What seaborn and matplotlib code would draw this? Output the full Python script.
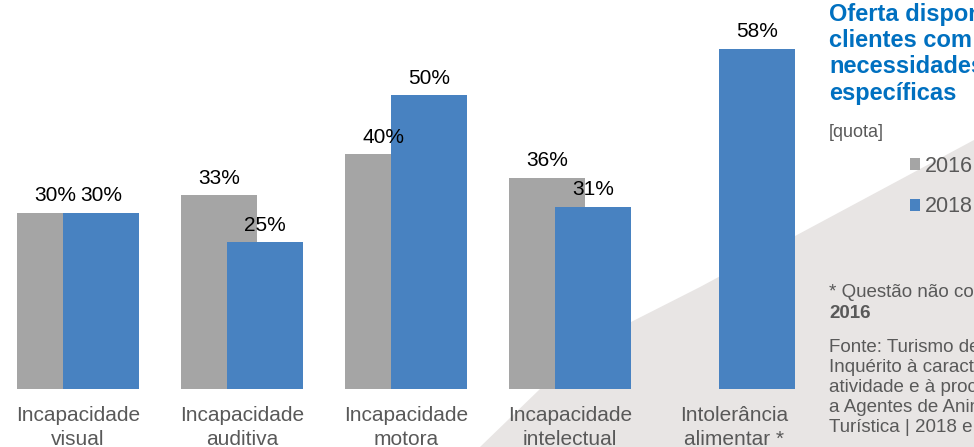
import numpy as np
import pandas as pd
import seaborn as sns
import matplotlib.pyplot as plt
from matplotlib.patches import Polygon

# Chart data
categories = ["Incapacidade\nvisual", "Incapacidade\nauditiva", "Incapacidade\nmotora",
              "Incapacidade\nintelectual", "Intolerância\nalimentar *"]
years = ["2016", "2018"]
share_2016 = [30, 33, 40, 36, np.nan]   # not asked in 2016 for the last one
share_2018 = [30, 25, 50, 31, 58]

colors = {"2016": "#A5A5A5", "2018": "#4882C1"}
text_gray = "#595959"
title_blue = "#0070C0"

df = pd.DataFrame({
    "categoria": categories * 2,
    "ano": [years[0]] * len(categories) + [years[1]] * len(categories),
    "quota": share_2016 + share_2018,
})

sns.set_style("white")
plt.rcParams["font.family"] = ["Liberation Sans", "DejaVu Sans"]

W, H = 974, 447
fig = plt.figure(figsize=(W / 100, H / 100), dpi=100)
fig.patch.set_facecolor("white")

# light diagonal background shape
bg_px = [(480, 447), (540, 389), (631, 322), (700, 287), (974, 140), (974, 447)]
fig.patches.append(Polygon([(x / W, 1 - y / H) for x, y in bg_px], closed=True,
                           transform=fig.transFigure, facecolor="#E8E5E4",
                           edgecolor="none", zorder=-5))

ax = fig.add_axes([0, 58 / H, 800 / W, 1 - 58 / H])
ax.patch.set_alpha(0)

sns.barplot(data=df, x="categoria", y="quota", hue="ano", hue_order=years,
            order=categories, palette=colors, width=0.56, gap=-0.655,
            errorbar=None, saturation=1, linewidth=0, ax=ax, legend=True)

for cont in ax.containers:
    ax.bar_label(cont, labels=[f"{v:.0f}%" for v in cont.datavalues],
                 padding=5.5, fontsize=15, color="black")

ax.set_xlim(-78 / 164, (800 - 78) / 164)
ax.set_ylim(0, 389 / 5.87)
ax.set_xlabel("")
ax.set_ylabel("")
ax.set_yticks([])
sns.despine(ax=ax, left=True, bottom=True)
ax.tick_params(axis="x", length=0, pad=12, labelsize=15, labelcolor=text_gray)
for lab in ax.get_xticklabels():
    lab.set_linespacing(1.38)

sns.move_legend(ax, loc="upper left", bbox_to_anchor=(910 / W, 1 - 156 / H),
                bbox_transform=fig.transFigure, frameon=False, title=None,
                fontsize=15.5, handlelength=0.47, handleheight=0.47,
                handletextpad=0.22, labelspacing=0.9, borderpad=0, borderaxespad=0)
for t in ax.get_legend().get_texts():
    t.set_color(text_gray)

x0 = 829 / W
fig.text(x0, 1 - 3 / H, "Oferta disponível a\nclientes com\nnecessidades\nespecíficas",
         va="top", ha="left", fontsize=17, fontweight="bold", color=title_blue,
         linespacing=1.18)
fig.text(x0, 1 - 124 / H, "[quota]", va="top", ha="left", fontsize=13, color=text_gray)
fig.text(x0, 1 - 284 / H, "* Questão não colocada em", va="top", ha="left",
         fontsize=13.5, color=text_gray)
fig.text(x0, 1 - 305 / H, "2016", va="top", ha="left", fontsize=13.5,
         fontweight="bold", color=text_gray)
fig.text(x0, 1 - 339 / H,
         "Fonte: Turismo de Portugal,\nInquérito à caracterização da\n"
         "atividade e à procura dirigido\na Agentes de Animação\nTurística | 2018 e 2016",
         va="top", ha="left", fontsize=13.5, color=text_gray, linespacing=1.24)

fig.savefig("out.png", dpi=100)
